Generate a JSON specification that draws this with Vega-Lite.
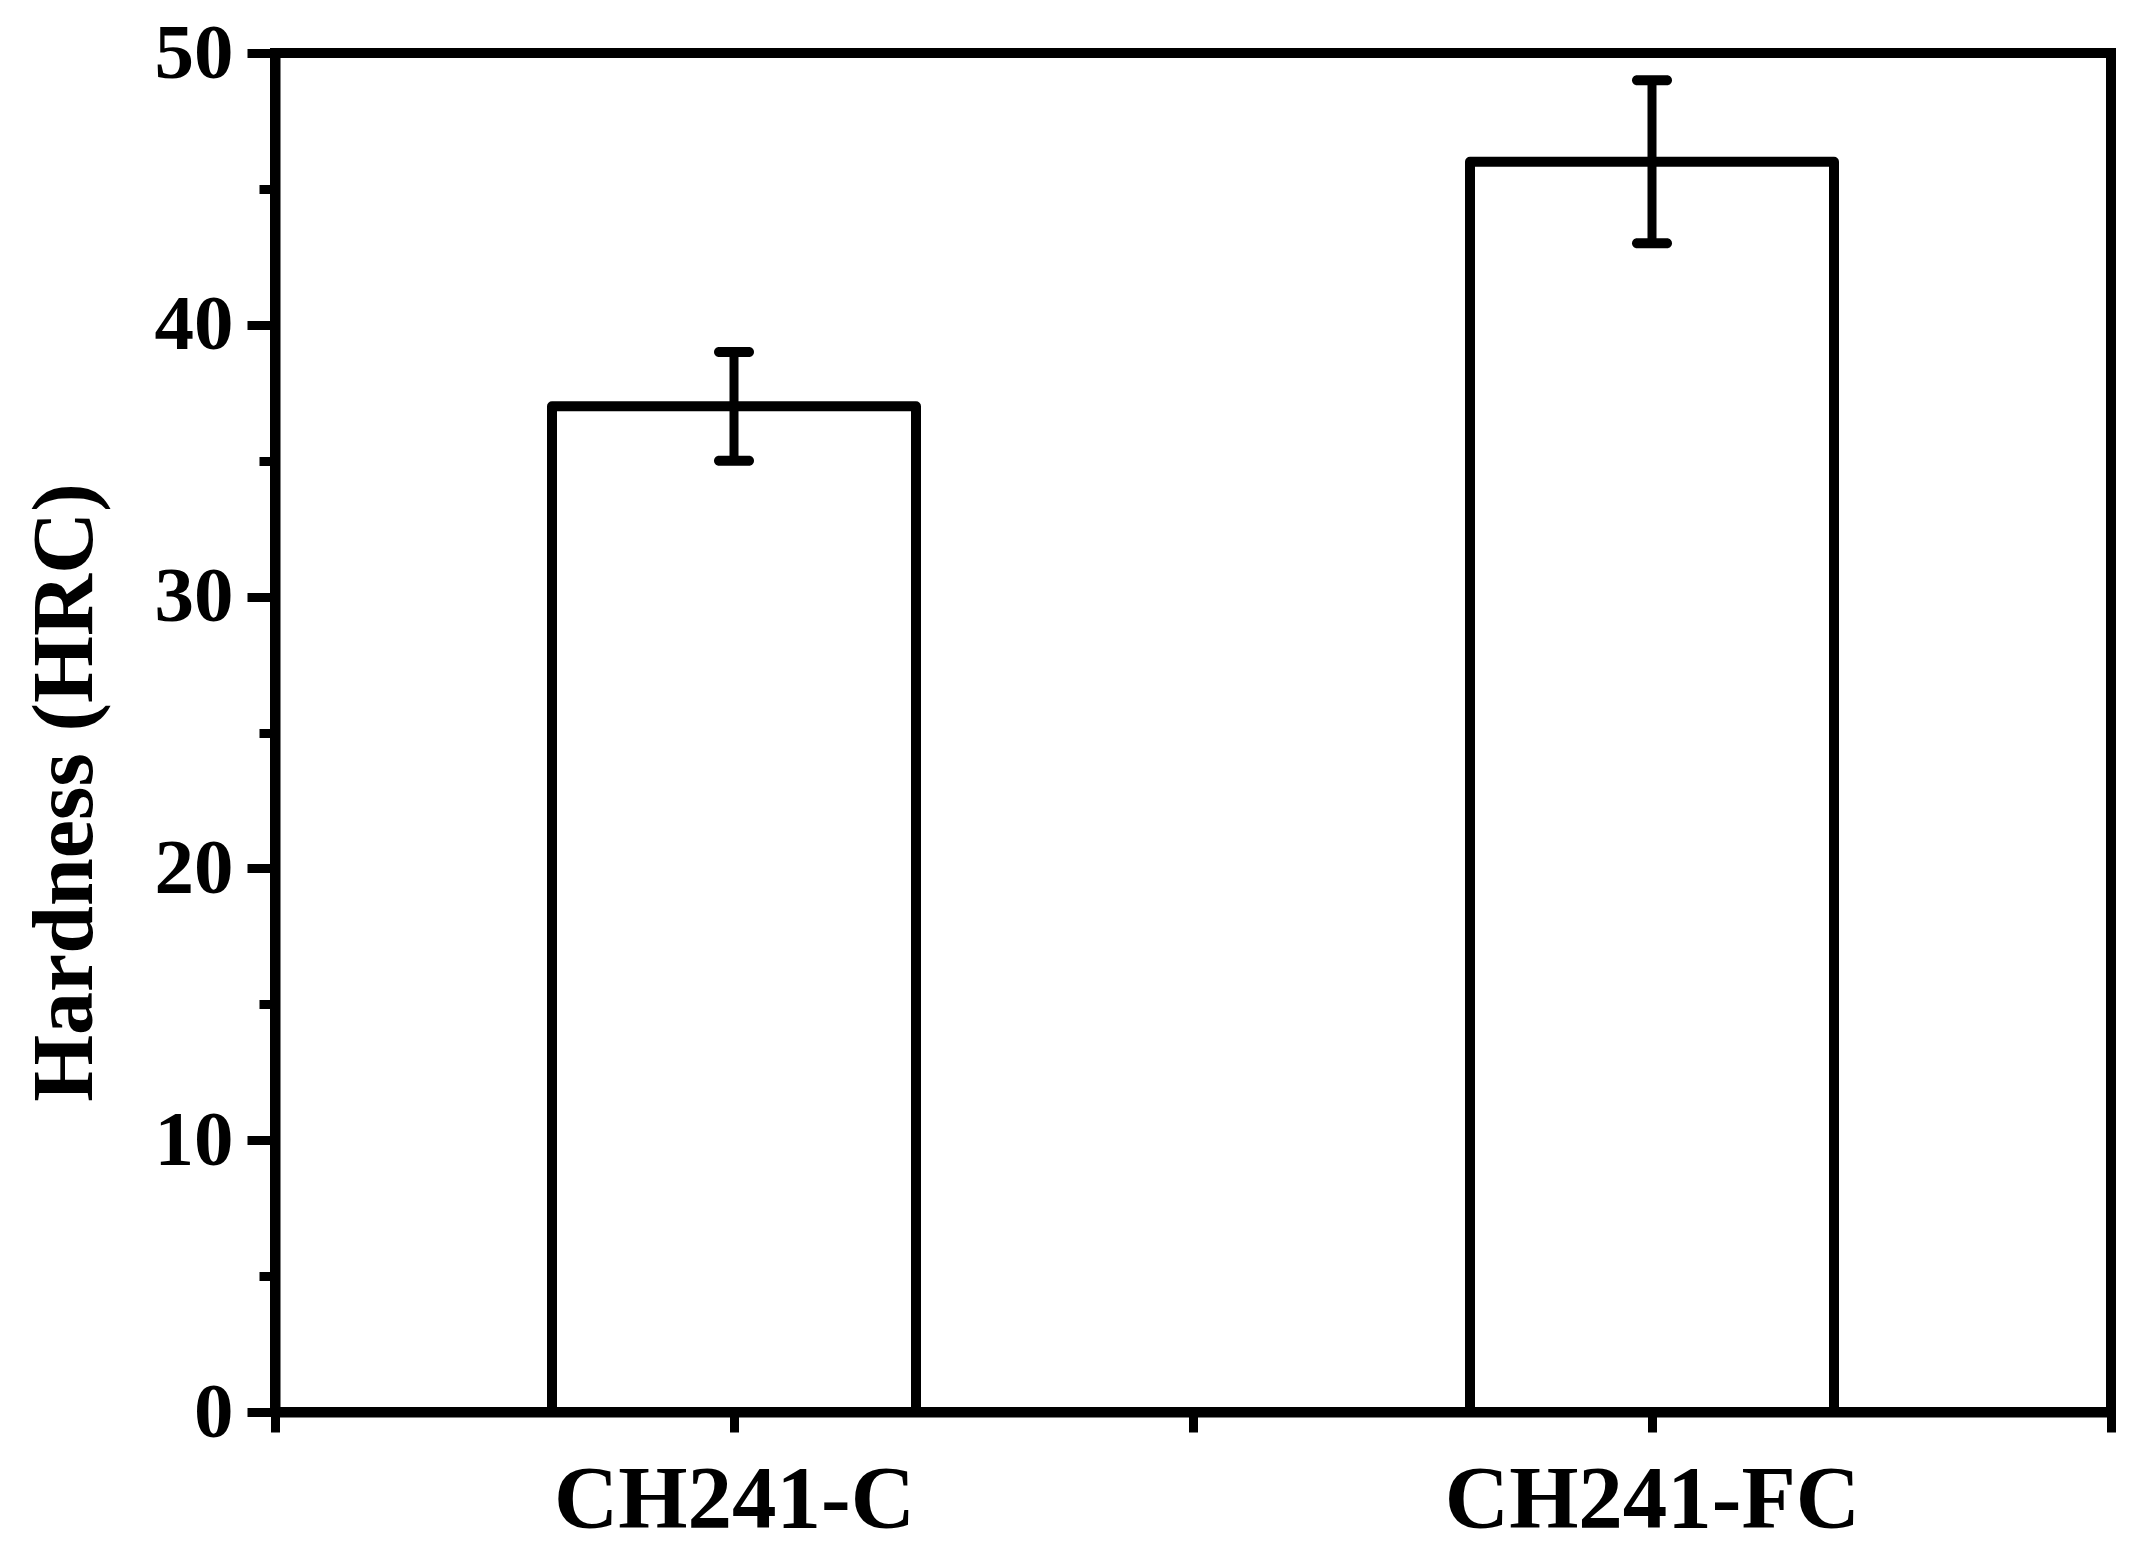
{
  "$schema": "https://vega.github.io/schema/vega-lite/v6.json",
  "autosize": "none",
  "width": 1836,
  "height": 1359,
  "padding": {"left": 275, "top": 53, "right": 39, "bottom": 152},
  "background": "white",
  "config": {
    "view": {"stroke": "black", "strokeWidth": 10},
    "axis": {
      "grid": false,
      "domainColor": "black",
      "domainWidth": 10,
      "tickColor": "black",
      "tickWidth": 9,
      "labelColor": "black",
      "labelFont": "Liberation Serif, Times New Roman, Times, serif",
      "labelFontWeight": "bold",
      "titleColor": "black",
      "titleFont": "Liberation Serif, Times New Roman, Times, serif",
      "titleFontWeight": "bold"
    }
  },
  "data": {
    "values": [
      {"sample": "CH241-C", "hardness": 37, "low": 35, "high": 39},
      {"sample": "CH241-FC", "hardness": 46, "low": 43, "high": 49}
    ]
  },
  "encoding": {
    "x": {
      "field": "sample",
      "type": "nominal",
      "scale": {"type": "point", "domain": ["", "CH241-C", " ", "CH241-FC", "  "], "padding": 0},
      "axis": {
        "title": null,
        "labelAngle": 0,
        "labelFontSize": 89,
        "labelPadding": 24,
        "labelLimit": 0,
        "labelOverlap": false,
        "tickSize": 20,
        "labelBaseline": "top"
      }
    }
  },
  "layer": [
    {
      "mark": {"type": "bar", "width": 364, "fill": "white", "stroke": "black", "strokeWidth": 10, "strokeJoin": "round"},
      "encoding": {
        "y": {
          "field": "hardness",
          "type": "quantitative",
          "scale": {"domain": [0, 50], "nice": false, "zero": true},
          "axis": {
            "title": "Hardness (HRC)",
            "titleFontSize": 86,
            "titleAngle": -90,
            "titleAlign": "center",
            "titleBaseline": "alphabetic",
            "titleX": -184,
            "titleY": 739,
            "values": [0, 5, 10, 15, 20, 25, 30, 35, 40, 45, 50],
            "labelExpr": "datum.value % 10 === 0 ? datum.label : ''",
            "labelFontSize": 79,
            "labelPadding": 14,
            "tickSize": {"condition": {"test": "datum.value % 10 !== 0", "value": 16}, "value": 28}
          }
        }
      }
    },
    {
      "mark": {"type": "rule", "color": "black", "strokeWidth": 9},
      "encoding": {
        "y": {"field": "low", "type": "quantitative"},
        "y2": {"field": "high"}
      }
    },
    {
      "mark": {"type": "tick", "color": "black", "opacity": 1, "size": 40, "thickness": 10, "cornerRadius": 5},
      "encoding": {
        "y": {"field": "low", "type": "quantitative"}
      }
    },
    {
      "mark": {"type": "tick", "color": "black", "opacity": 1, "size": 40, "thickness": 10, "cornerRadius": 5},
      "encoding": {
        "y": {"field": "high", "type": "quantitative"}
      }
    }
  ]
}
